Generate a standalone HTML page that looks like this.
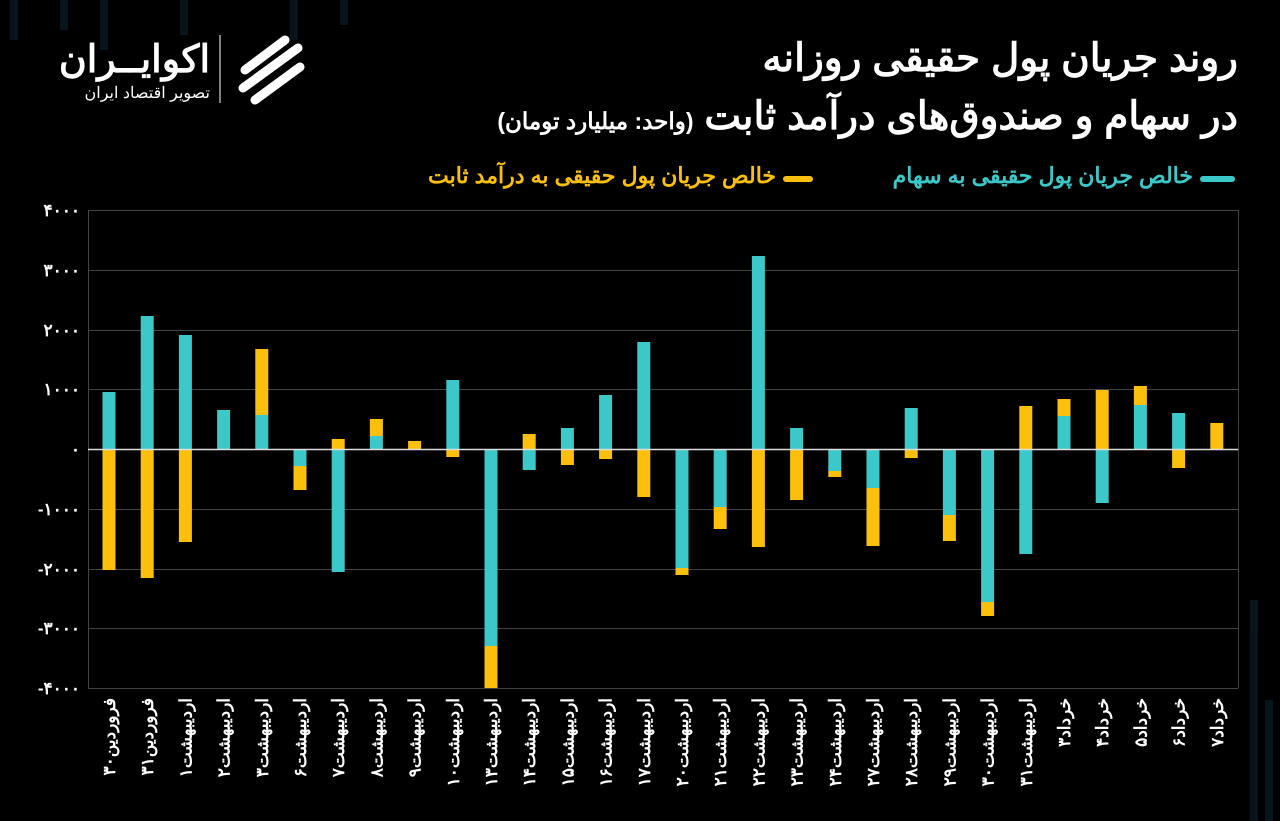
<!DOCTYPE html>
<html><head><meta charset="utf-8"><style>
html,body{margin:0;padding:0;background:#000;}
svg{display:block;position:absolute;left:0;top:0;}
text,.t{font-family:"Liberation Sans","Noto Sans CJK SC",sans-serif;}
.t{position:absolute;direction:rtl;white-space:nowrap;font-weight:bold;color:#fff;}
</style></head><body>
<svg width="1280" height="821" viewBox="0 0 1280 821" xmlns="http://www.w3.org/2000/svg">
<rect width="1280" height="821" fill="#000"/>
<g fill="#0b1a22" opacity="0.8">
<rect x="10" y="0" width="8" height="40"/><rect x="60" y="0" width="8" height="30"/><rect x="100" y="0" width="8" height="50"/>
<rect x="180" y="0" width="8" height="35"/><rect x="290" y="0" width="8" height="40"/><rect x="340" y="0" width="8" height="25"/>
<rect x="1250" y="600" width="8" height="221"/><rect x="1265" y="700" width="8" height="121"/>
</g>
<rect x="1200" y="176" width="35" height="6" rx="3" fill="#3cc8c8"/>
<rect x="783" y="176" width="30" height="6" rx="3" fill="#fcc00c"/>
<line x1="220" y1="35" x2="220" y2="103" stroke="#fff" stroke-width="1"/>
<g fill="none" stroke="#fff" stroke-width="9" stroke-linecap="round">
<path d="M245 70 L285 40"/><path d="M243 88 L298 48"/><path d="M255 100 L300 67"/>
</g>
<g stroke="#444" stroke-width="1">
<line x1="88" y1="210.5" x2="1238" y2="210.5"/>
<line x1="88" y1="270.5" x2="1238" y2="270.5"/>
<line x1="88" y1="330.5" x2="1238" y2="330.5"/>
<line x1="88" y1="389.5" x2="1238" y2="389.5"/>
<line x1="88" y1="509.5" x2="1238" y2="509.5"/>
<line x1="88" y1="569.5" x2="1238" y2="569.5"/>
<line x1="88" y1="628.5" x2="1238" y2="628.5"/>
<line x1="88" y1="688.5" x2="1238" y2="688.5"/>
<line x1="88.5" y1="210" x2="88.5" y2="688"/>
<line x1="1238.5" y1="210" x2="1238.5" y2="688"/>
</g>
<g fill="#fff" font-size="17" font-weight="bold" text-anchor="end">
<text x="80" y="216">۴۰۰۰</text><text x="80" y="276">۳۰۰۰</text><text x="80" y="336">۲۰۰۰</text>
<text x="80" y="395">۱۰۰۰</text><text x="80" y="455">۰</text><text x="80" y="515">-۱۰۰۰</text>
<text x="80" y="575">-۲۰۰۰</text><text x="80" y="634">-۳۰۰۰</text><text x="80" y="694">-۴۰۰۰</text>
</g>
<g id="bars"></g>
<line x1="88" y1="449.5" x2="1238" y2="449.5" stroke="#ddd" stroke-width="1.5"/>
<g id="labels" fill="#fff" font-size="17" font-weight="bold"></g>
</svg>
<div class="t" style="right:42px;top:36px;font-size:39px;line-height:46px;">روند جریان پول حقیقی روزانه</div>
<div class="t" style="right:42px;top:94px;font-size:39px;line-height:46px;">در سهام و صندوق‌های درآمد ثابت <span style="font-size:23px;">(واحد: میلیارد تومان)</span></div>
<div class="t" style="right:87px;top:162px;font-size:22px;line-height:28px;color:#3cc8c8;">خالص جریان پول حقیقی به سهام</div>
<div class="t" style="right:504px;top:162px;font-size:22px;line-height:28px;color:#fcc00c;">خالص جریان پول حقیقی به درآمد ثابت</div>
<div class="t" style="right:1070px;top:38px;font-size:38px;line-height:44px;">اکوایــران</div>
<div class="t" style="right:1070px;top:84px;font-size:16px;line-height:20px;font-weight:normal;">تصویر اقتصاد ایران</div>
<script>
var T='#3cc8c8',Y='#fcc00c';
var d=[
[[392,449],[449,570]],[[316,449],[449,578]],[[335,449],[449,542]],[[410,449],null],[[415,449],[349,415]],
[[449,466],[466,490]],[[449,572],[439,449]],[[436,449],[419,436]],[null,[441,449]],[[380,449],[449,457]],
[[449,646],[646,688]],[[449,470],[434,449]],[[428,449],[449,465]],[[395,449],[449,459]],[[342,449],[449,497]],
[[449,568],[568,575]],[[449,507],[507,529]],[[256,449],[449,547]],[[428,449],[449,500]],[[449,471],[471,477]],
[[449,488],[488,546]],[[408,449],[449,458]],[[449,515],[515,541]],[[449,602],[602,616]],[[449,554],[406,449]],
[[416,449],[399,416]],[[449,503],[390,449]],[[405,449],[386,405]],[[413,449],[449,468]],[null,[423,449]]];
var L=['فروردین۳۰','فروردین۳۱','اردیبهشت۱','اردیبهشت۲','اردیبهشت۳','اردیبهشت۶','اردیبهشت۷','اردیبهشت۸','اردیبهشت۹','اردیبهشت۱۰','اردیبهشت۱۳','اردیبهشت۱۴','اردیبهشت۱۵','اردیبهشت۱۶','اردیبهشت۱۷','اردیبهشت۲۰','اردیبهشت۲۱','اردیبهشت۲۲','اردیبهشت۲۳','اردیبهشت۲۴','اردیبهشت۲۷','اردیبهشت۲۸','اردیبهشت۲۹','اردیبهشت۳۰','اردیبهشت۳۱','خرداد۳','خرداد۴','خرداد۵','خرداد۶','خرداد۷'];
var ns='http://www.w3.org/2000/svg',b=document.getElementById('bars'),lg=document.getElementById('labels');
d.forEach(function(r,i){var cx=109+i*38.2;
[[r[0],T],[r[1],Y]].forEach(function(p){if(!p[0])return;var e=document.createElementNS(ns,'rect');
e.setAttribute('x',cx-6.5);e.setAttribute('width',13);e.setAttribute('y',p[0][0]);e.setAttribute('height',p[0][1]-p[0][0]);e.setAttribute('fill',p[1]);b.appendChild(e);});
var t=document.createElementNS(ns,'text');t.setAttribute('transform','translate('+(cx+6)+',698) rotate(-90)');
t.setAttribute('text-anchor','end');t.textContent=L[i];lg.appendChild(t);});
</script>
</body></html>
